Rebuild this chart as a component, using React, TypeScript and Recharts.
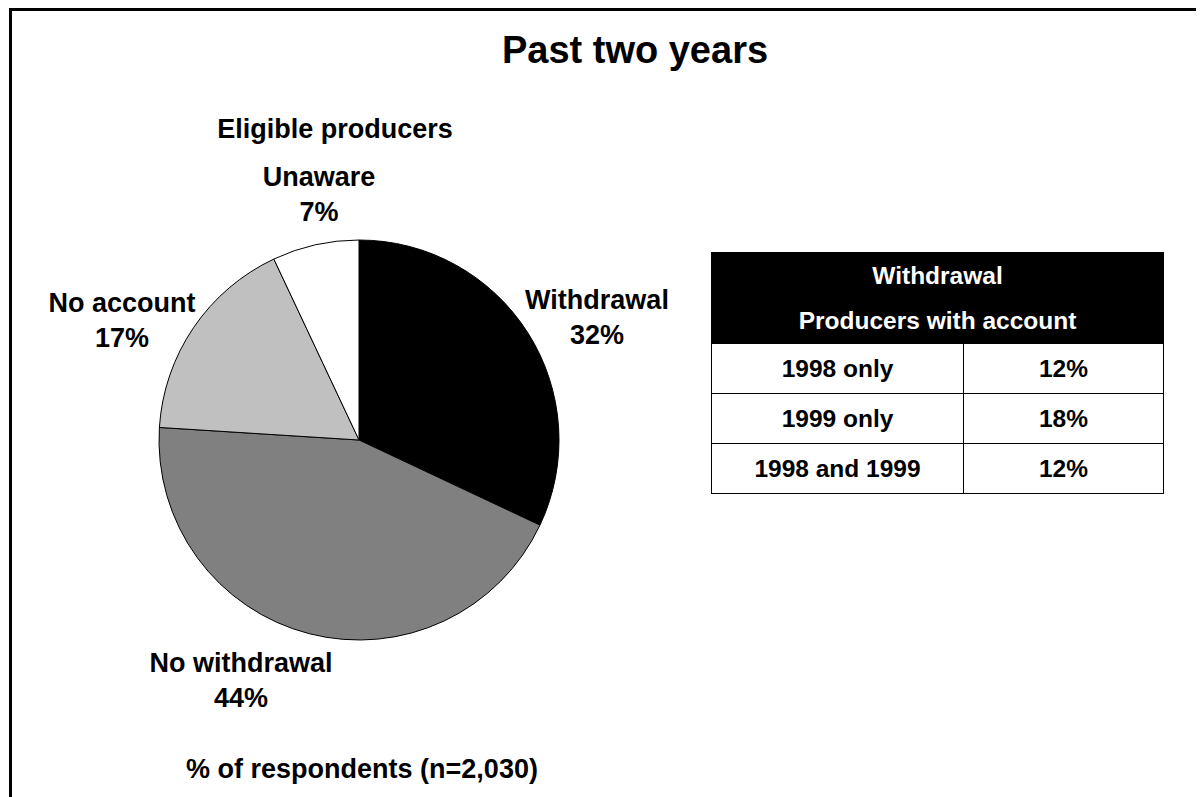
import { Cell, Pie, PieChart } from "recharts";

const sliceNames = ["Withdrawal", "No withdrawal", "No account", "Unaware"];
const sliceValues = [32, 44, 17, 7];
const sliceColors = ["#000000", "#808080", "#C0C0C0", "#FFFFFF"];

const tableHeader = ["Withdrawal", "Producers with account"];
const tableYears = ["1998 only", "1999 only", "1998 and 1999"];
const tableShares = ["12%", "18%", "12%"];

const pieData = sliceNames.map((name, i) => ({ name, value: sliceValues[i] }));

const FONT = "'Liberation Sans', Arial, Helvetica, sans-serif";
const W = 1196;
const H = 789;

// first-baseline position of each label, relative to the pie centre
const labelOffsets = [
  [238, -131],
  [-118, 232],
  [-237, -128],
  [-40, -254],
];

const renderLabel = (props: any) => {
  const { cx, cy, index, name, value } = props;
  const [dx, dy] = labelOffsets[index];
  const x = cx + dx;
  const y = cy + dy;
  return (
    <text
      x={x}
      y={y}
      textAnchor="middle"
      fontFamily={FONT}
      fontWeight="bold"
      fontSize={27}
      fill="#000"
    >
      <tspan x={x} dy={0}>
        {name}
      </tspan>
      <tspan x={x} dy={35}>
        {value}%
      </tspan>
    </text>
  );
};

const cellStyle = {
  border: "1px solid #000",
  textAlign: "center" as const,
  height: 49,
  padding: 0,
  fontFamily: FONT,
  fontWeight: "bold" as const,
  fontSize: 24.5,
};

export default function App() {
  return (
    <div style={{ position: "relative", width: W, height: H, background: "#fff" }}>
      <PieChart width={W} height={H} margin={{ top: 0, right: 0, bottom: 0, left: 0 }}>
        <Pie
          data={pieData}
          dataKey="value"
          nameKey="name"
          cx={351}
          cy={432}
          outerRadius={200}
          startAngle={90}
          endAngle={-270}
          stroke="#000"
          strokeWidth={1}
          label={renderLabel}
          labelLine={false}
          isAnimationActive={false}
        >
          {pieData.map((d, i) => (
            <Cell key={d.name} fill={sliceColors[i]} />
          ))}
        </Pie>
      </PieChart>

      <svg
        width={W}
        height={H}
        style={{ position: "absolute", left: 0, top: 0, pointerEvents: "none" }}
      >
        <line x1={1} y1={1.5} x2={W} y2={1.5} stroke="#000" strokeWidth={3} />
        <line x1={2.5} y1={0} x2={2.5} y2={H} stroke="#000" strokeWidth={3} />
        <text
          x={627}
          y={55}
          textAnchor="middle"
          fontFamily={FONT}
          fontWeight="bold"
          fontSize={38}
        >
          Past two years
        </text>
        <text
          x={327}
          y={130}
          textAnchor="middle"
          fontFamily={FONT}
          fontWeight="bold"
          fontSize={27}
        >
          Eligible producers
        </text>
        <text
          x={354}
          y={770}
          textAnchor="middle"
          fontFamily={FONT}
          fontWeight="bold"
          fontSize={27}
        >
          % of respondents (n=2,030)
        </text>
      </svg>

      <table
        style={{
          position: "absolute",
          left: 703,
          top: 244,
          width: 453,
          borderCollapse: "collapse",
        }}
      >
        <thead>
          <tr>
            <th
              colSpan={2}
              style={{
                background: "#000",
                color: "#fff",
                fontFamily: FONT,
                fontWeight: "bold",
                fontSize: 24.5,
                height: 89,
                padding: 0,
                lineHeight: "45px",
                border: "1px solid #000",
              }}
            >
              {tableHeader[0]}
              <br />
              {tableHeader[1]}
            </th>
          </tr>
        </thead>
        <tbody>
          {tableYears.map((yr, i) => (
            <tr key={yr}>
              <td style={{ ...cellStyle, width: 251 }}>{yr}</td>
              <td style={cellStyle}>{tableShares[i]}</td>
            </tr>
          ))}
        </tbody>
      </table>
    </div>
  );
}
